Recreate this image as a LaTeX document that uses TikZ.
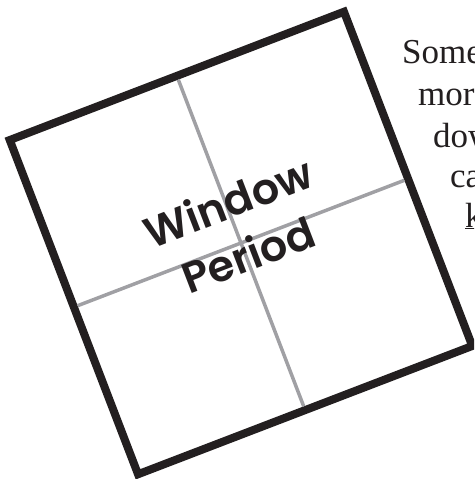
\documentclass[tikz,border=0pt]{standalone}
\usepackage{fontspec}
\setmainfont{Liberation Serif}
\newfontfamily\panefont{Poppins}[BoldFont={Poppins SemiBold}]
\definecolor{frameblack}{HTML}{231F20}
\definecolor{crossgray}{HTML}{A0A0A4}
\tikzset{
  pane/.style={draw=frameblack, line width=8pt, minimum size=358pt, inner sep=0pt, outer sep=0pt, rotate=21},
  mullion/.style={draw=crossgray, line width=3.5pt, shorten <=4pt, shorten >=4pt},
  blurb/.style={anchor=base west, inner sep=0pt, font=\fontsize{35}{41}\selectfont, text=frameblack},
}
\begin{document}
\begin{tikzpicture}[x=1pt, y=-1pt]
  \useasboundingbox (0,0) rectangle (474,479);
  \clip (0,0) rectangle (474,479);
  \node[pane] (win) at (241,243) {};
  \draw[mullion] (win.north) -- (win.south);
  \draw[mullion] (win.west) -- (win.east);
  \node[rotate=21, align=center, text=frameblack, font=\panefont\bfseries\fontsize{43}{56}\selectfont] (label) at (238,228) {Window\\Period};
  \node[blurb] (l1) at (402,63) {Some};
  \node[blurb] (l2) at (418,105) {mor};
  \node[blurb] (l3) at (433,147) {dow};
  \node[blurb] (l4) at (450,187) {ca};
  \node[blurb] (l5) at (465,227) {\underline{k}};
\end{tikzpicture}
\end{document}
